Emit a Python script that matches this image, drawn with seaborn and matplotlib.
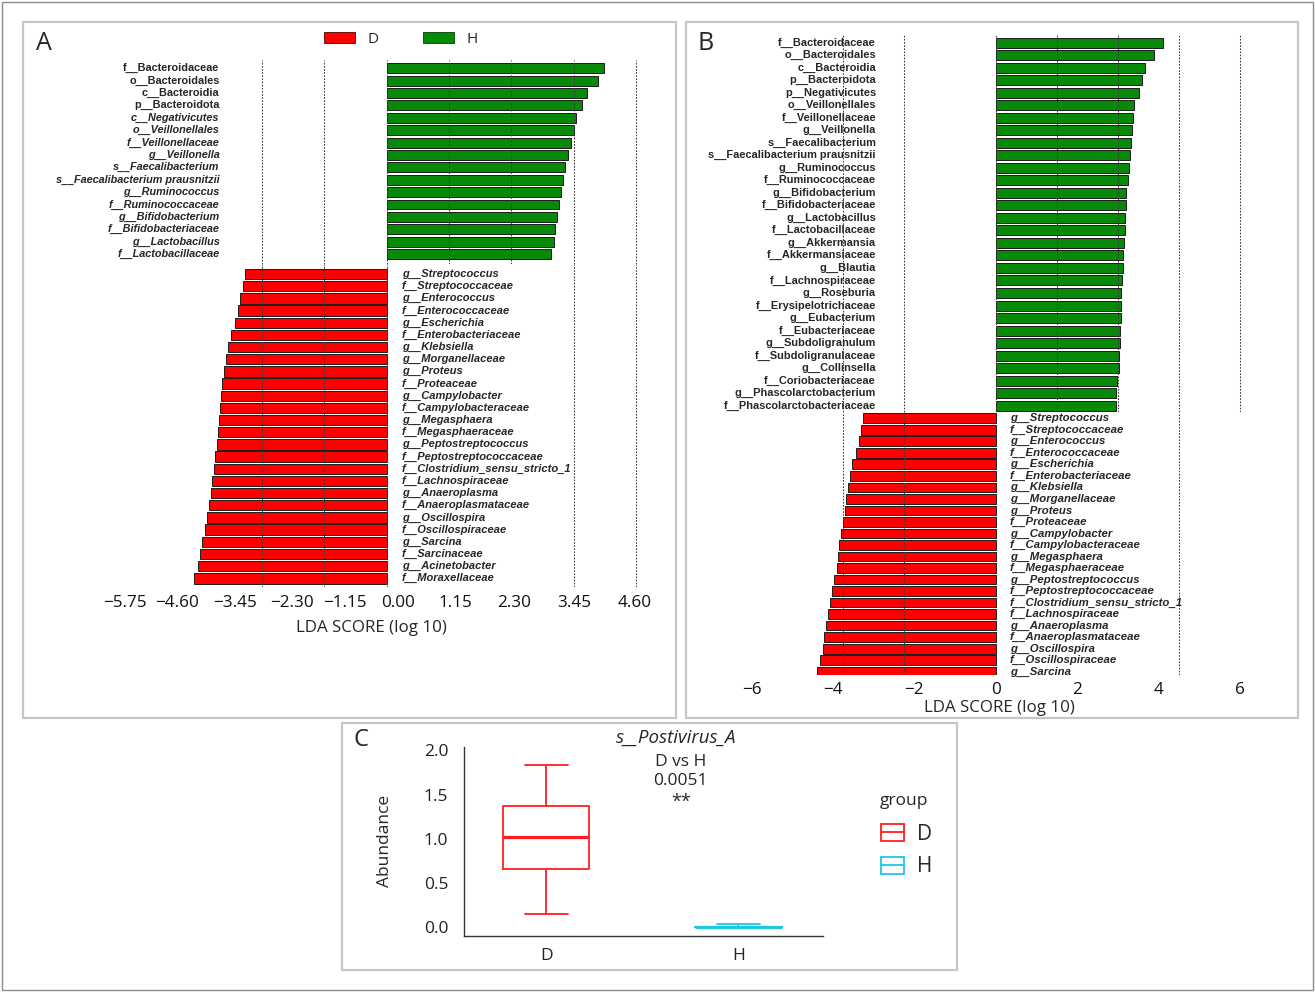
import numpy as np
import pandas as pd
import matplotlib
matplotlib.use("Agg")
import matplotlib.pyplot as plt
import seaborn as sns
from matplotlib.patches import Patch, Rectangle
from matplotlib.lines import Line2D
from matplotlib.legend_handler import HandlerTuple

# ----------------------------- data -----------------------------
A_H_TAXA = ["f__Bacteroidaceae", "o__Bacteroidales", "c__Bacteroidia", "p__Bacteroidota",
            "c__Negativicutes", "o__Veillonellales", "f__Veillonellaceae", "g__Veillonella",
            "s__Faecalibacterium", "s__Faecalibacterium prausnitzii", "g__Ruminococcus",
            "f__Ruminococcaceae", "g__Bifidobacterium", "f__Bifidobacteriaceae",
            "g__Lactobacillus", "f__Lactobacillaceae"]
A_H_LDA = [4.00, 3.89, 3.70, 3.61, 3.50, 3.46, 3.40, 3.34, 3.29, 3.26, 3.22, 3.18, 3.15,
           3.10, 3.08, 3.04]
A_H_STYLE = ["normal"] * 4 + ["italic"] * 12

A_D_TAXA = ["g__Streptococcus", "f__Streptococcaceae", "g__Enterococcus", "f__Enterococcaceae",
            "g__Escherichia", "f__Enterobacteriaceae", "g__Klebsiella", "g__Morganellaceae",
            "g__Proteus", "f__Proteaceae", "g__Campylobacter", "f__Campylobacteraceae",
            "g__Megasphaera", "f__Megasphaeraceae", "g__Peptostreptococcus",
            "f__Peptostreptococcaceae", "f__Clostridium_sensu_stricto_1", "f__Lachnospiraceae",
            "g__Anaeroplasma", "f__Anaeroplasmataceae", "g__Oscillospira", "f__Oscillospiraceae",
            "g__Sarcina", "f__Sarcinaceae", "g__Acinetobacter", "f__Moraxellaceae"]
A_D_LDA = [-2.62, -2.66, -2.71, -2.74, -2.79, -2.87, -2.92, -2.96, -3.00, -3.03, -3.05, -3.08,
           -3.09, -3.11, -3.14, -3.17, -3.19, -3.22, -3.24, -3.27, -3.31, -3.35, -3.41, -3.45,
           -3.49, -3.56]
A_TICK_LABELS = ["\u22125.75", "\u22124.60", "\u22123.45", "\u22122.30", "\u22121.15", "0.00",
                 "1.15", "2.30", "3.45", "4.60"]

B_H_TAXA = ["f__Bacteroidaceae", "o__Bacteroidales", "c__Bacteroidia", "p__Bacteroidota",
            "p__Negativicutes", "o__Veillonellales", "f__Veillonellaceae", "g__Veillonella",
            "s__Faecalibacterium", "s__Faecalibacterium prausnitzii", "g__Ruminococcus",
            "f__Ruminococcaceae", "g__Bifidobacterium", "f__Bifidobacteriaceae",
            "g__Lactobacillus", "f__Lactobacillaceae", "g__Akkermansia", "f__Akkermansiaceae",
            "g__Blautia", "f__Lachnospiraceae", "g__Roseburia", "f__Erysipelotrichaceae",
            "g__Eubacterium", "f__Eubacteriaceae", "g__Subdoligranulum", "f__Subdoligranulaceae",
            "g__Collinsella", "f__Coriobacteriaceae", "g__Phascolarctobacterium",
            "f__Phascolarctobacteriaceae"]
B_H_LDA = [4.11, 3.89, 3.68, 3.59, 3.51, 3.41, 3.37, 3.34, 3.33, 3.31, 3.27, 3.24, 3.21, 3.19,
           3.18, 3.17, 3.16, 3.14, 3.12, 3.11, 3.09, 3.08, 3.07, 3.06, 3.05, 3.04, 3.02, 2.97,
           2.96, 2.95]
B_D_TAXA = ["g__Streptococcus", "f__Streptococcaceae", "g__Enterococcus", "f__Enterococcaceae",
            "g__Escherichia", "f__Enterobacteriaceae", "g__Klebsiella", "g__Morganellaceae",
            "g__Proteus", "f__Proteaceae", "g__Campylobacter", "f__Campylobacteraceae",
            "g__Megasphaera", "f__Megasphaeraceae", "g__Peptostreptococcus",
            "f__Peptostreptococcaceae", "f__Clostridium_sensu_stricto_1", "f__Lachnospiraceae",
            "g__Anaeroplasma", "f__Anaeroplasmataceae", "g__Oscillospira", "f__Oscillospiraceae",
            "g__Sarcina"]
B_D_LDA = [-3.26, -3.31, -3.35, -3.44, -3.52, -3.57, -3.62, -3.67, -3.71, -3.75, -3.79, -3.84,
           -3.87, -3.91, -3.97, -4.02, -4.07, -4.13, -4.17, -4.21, -4.25, -4.31, -4.38]
B_TICKS = [-6, -4, -2, 0, 2, 4, 6]
B_TICK_LABELS = ["\u22126", "\u22124", "\u22122", "0", "2", "4", "6"]

GROUPS = ["D", "H"]
C_D_ABUND = [0.154, 0.45, 0.658, 0.86, 1.025, 1.20, 1.369, 1.60, 1.834]
C_H_ABUND = [0.0, 0.0, 0.0, 0.0, 0.0, 0.001, 0.003, 0.010, 0.034]
C_YTICKS = [0.0, 0.5, 1.0, 1.5, 2.0]
C_YTICK_LABELS = ["0.0", "0.5", "1.0", "1.5", "2.0"]

# ----------------------------- style -----------------------------
sns.set_style("white")
plt.rcParams["font.family"] = ["Open Sans", "DejaVu Sans"]
plt.rcParams["axes.unicode_minus"] = True

RED = "#FF0000"
GREEN = "#078A07"
EDGE = "#1c1c1c"
C_PAL = {"D": "#FF1F1F", "H": "#1CC8E3"}
GRID_KW = dict(color="#3c3c3c", linestyle=(0, (1.6, 1.4)), linewidth=0.75)
LAB_FONT = "Liberation Sans"

W, H = 1315, 992
fig = plt.figure(figsize=(W / 100, H / 100), dpi=100)


def axrect(l, r, t, b):
    return [l / W, 1 - b / H, (r - l) / W, (b - t) / H]


def draw_bars(ax, taxa, vals, color, width):
    df = pd.DataFrame({"taxon": taxa, "lda": vals})
    sns.barplot(data=df, y="taxon", x="lda", orient="h", color=color, saturation=1,
                width=width, edgecolor=EDGE, linewidth=0.7, errorbar=None, ax=ax)
    ax.set_ylabel("")
    ax.set_xlabel("")
    ax.set_yticks([])
    for s in ax.spines.values():
        s.set_visible(False)


def style_grid(ax, grid_vals, xlim):
    ax.set_xlim(*xlim)
    ax.set_xticks(grid_vals, minor=True)
    ax.grid(False, which="major")
    ax.grid(True, which="minor", axis="x", **GRID_KW)
    ax.set_axisbelow(False)
    ax.tick_params(which="both", length=0)


# ----------------------------- Panel A -----------------------------
A_X0, A_SC = 386.7, 54.2          # px of zero, px per LDA unit
A_XLIM = ((100 - A_X0) / A_SC, (660 - A_X0) / A_SC)
A_GRID = [-2.30, -1.15, 0.0, 1.15, 2.30, 3.45, 4.60]
A_GRID_LOW = [-2.30, -1.15, 0.0, 3.45, 4.60]
A_TICK_POS = [(p - A_X0) / A_SC for p in [124.5, 177, 235, 292, 345, 398, 455, 514, 574, 635]]

axAg = fig.add_axes(axrect(100, 660, 60, 264))
draw_bars(axAg, A_H_TAXA, A_H_LDA, GREEN, 0.80)
axAg.set_ylim(15.81, -0.67)
style_grid(axAg, A_GRID, A_XLIM)
axAg.set_xticks([])
for i, (t, st) in enumerate(zip(A_H_TAXA, A_H_STYLE)):
    axAg.text((219.5 - A_X0) / A_SC, i, t, ha="right", va="center", fontsize=7.8,
              fontweight="bold", fontstyle=st, family=LAB_FONT)

axAr = fig.add_axes(axrect(100, 660, 264, 587))
draw_bars(axAr, A_D_TAXA, A_D_LDA, RED, 0.85)
axAr.set_ylim(25.71, -0.82)
style_grid(axAr, A_GRID_LOW, A_XLIM)
axAr.set_xticks(A_TICK_POS)
axAr.set_xticklabels(A_TICK_LABELS, fontsize=12.3)
axAr.tick_params(axis="x", which="major", pad=5.5, colors="#111111")
for i, t in enumerate(A_D_TAXA):
    axAr.text((402 - A_X0) / A_SC, i, t, ha="left", va="center", fontsize=8.0,
              fontweight="bold", fontstyle="italic", family=LAB_FONT)
axAr.set_xlabel("LDA SCORE (log 10)", fontsize=12.2, labelpad=7)
axAr.xaxis.label.set_x((371.8 - 100) / 560)

# legend of A
fig.legend(handles=[Patch(facecolor=RED, edgecolor="#5a0000", linewidth=0.6, label="D"),
                    Patch(facecolor=GREEN, edgecolor="#043d04", linewidth=0.6, label="H")],
           loc="center", bbox_to_anchor=(401 / W, 1 - 39.5 / H), ncol=2, frameon=False,
           fontsize=11, handlelength=2.0, handleheight=0.7, handletextpad=0.85,
           columnspacing=2.9)

# ----------------------------- Panel B -----------------------------
B_X0, B_SC = 995.7, 40.7
B_XLIM = ((700 - B_X0) / B_SC, (1290 - B_X0) / B_SC)
B_GRID = [-3.75, -2.25, 0.0, 1.5, 3.0, 4.5, 6.0]
B_GRID_LOW = [-3.75, -2.25, 0.0, 4.5, 6.0]

axBg = fig.add_axes(axrect(700, 1290, 35, 412))
draw_bars(axBg, B_H_TAXA, B_H_LDA, GREEN, 0.80)
axBg.set_ylim(29.5, -0.6)
style_grid(axBg, B_GRID, B_XLIM)
axBg.set_xticks([])
for i, t in enumerate(B_H_TAXA):
    axBg.text((876 - B_X0) / B_SC, i, t, ha="right", va="center", fontsize=7.9,
              fontweight="bold", family=LAB_FONT)

axBr = fig.add_axes(axrect(700, 1290, 412, 675))
draw_bars(axBr, B_D_TAXA, B_D_LDA, RED, 0.85)
axBr.set_ylim(22.29, -0.55)
style_grid(axBr, B_GRID_LOW, B_XLIM)
axBr.set_xticks(B_TICKS)
axBr.set_xticklabels(B_TICK_LABELS, fontsize=12.3)
axBr.tick_params(axis="x", which="major", pad=5, colors="#111111")
for i, t in enumerate(B_D_TAXA):
    axBr.text((1010 - B_X0) / B_SC, i, t, ha="left", va="center", fontsize=8.2,
              fontweight="bold", fontstyle="italic", family=LAB_FONT)
axBr.set_xlabel("LDA SCORE (log 10)", fontsize=12.2, labelpad=1.5)
axBr.xaxis.label.set_x((999 - 700) / 590)

# ----------------------------- Panel C -----------------------------
axC = fig.add_axes(axrect(463.5, 823, 746.7, 935.7))
dfc = pd.DataFrame({"group": ["D"] * len(C_D_ABUND) + ["H"] * len(C_H_ABUND),
                    "abundance": C_D_ABUND + C_H_ABUND})
sns.boxplot(data=dfc, x="group", y="abundance", hue="group", order=GROUPS,
            hue_order=GROUPS, palette=C_PAL, fill=False, width=0.45, whis=(0, 100),
            linewidth=1.3, showfliers=False, legend=False, dodge=False,
            medianprops=dict(linewidth=2.3), ax=axC)
axC.set_xlim(-0.43, 1.44)
axC.set_ylim(-0.095, 2.04)
axC.set_yticks(C_YTICKS)
axC.set_yticklabels(C_YTICK_LABELS, fontsize=12.5)
axC.tick_params(axis="x", labelsize=12.5)
axC.tick_params(which="major", length=4, width=1, color="#333333", colors="#222222", pad=7)
axC.tick_params(axis="x", pad=5)
axC.set_xlabel("")
axC.set_ylabel("Abundance", fontsize=12.5, labelpad=22)
for s in ["top", "right"]:
    axC.spines[s].set_visible(False)
for s in ["left", "bottom"]:
    axC.spines[s].set_color("#333333")
    axC.spines[s].set_linewidth(1.0)
axC.set_title("s__Postivirus_A", fontsize=13.5, fontstyle="italic", pad=3,
              x=(676 - 463.5) / 359.5)
axC.text(0.70, 1.87, "D vs H", ha="center", va="center", fontsize=12.5)
axC.text(0.70, 1.655, "0.0051", ha="center", va="center", fontsize=12.5)
axC.text(0.70, 1.42, "**", ha="center", va="center", fontsize=13)

fig.text(880 / W, 1 - 801 / H, "group", fontsize=12.5, ha="left", va="center")
c_handles = [(Patch(facecolor="white", edgecolor=C_PAL[g], linewidth=1.3),
              Line2D([0], [0], color=C_PAL[g], linewidth=1.3)) for g in GROUPS]
fig.legend(handles=c_handles, labels=GROUPS, handler_map={tuple: HandlerTuple(ndivide=1)},
           loc="upper left", bbox_to_anchor=(881 / W, 1 - 824 / H),
           frameon=False, fontsize=15, handlelength=1.1,
           handleheight=0.85, handletextpad=0.65, labelspacing=0.55,
           borderpad=0, borderaxespad=0)

# ----------------------------- panel letters & frames -----------------------------
fig.text(44 / W, 1 - 43 / H, "A", fontsize=18, ha="center", va="center")
fig.text(706 / W, 1 - 43 / H, "B", fontsize=18, ha="center", va="center")
fig.text(361 / W, 1 - 740 / H, "C", fontsize=17, ha="center", va="center")

for (l, t, r, b) in [(23, 22, 676, 718), (686, 22, 1298, 718), (342, 723, 957, 970)]:
    fig.add_artist(Rectangle((l / W, 1 - b / H), (r - l) / W, (b - t) / H,
                             transform=fig.transFigure, fill=False,
                             edgecolor="#c6c6c6", linewidth=1.6))
fig.add_artist(Rectangle((0.0015, 0.002), 0.997, 0.996, transform=fig.transFigure,
                         fill=False, edgecolor="#8c8c8c", linewidth=1.0))

fig.savefig("out.png", dpi=100, facecolor="white")
